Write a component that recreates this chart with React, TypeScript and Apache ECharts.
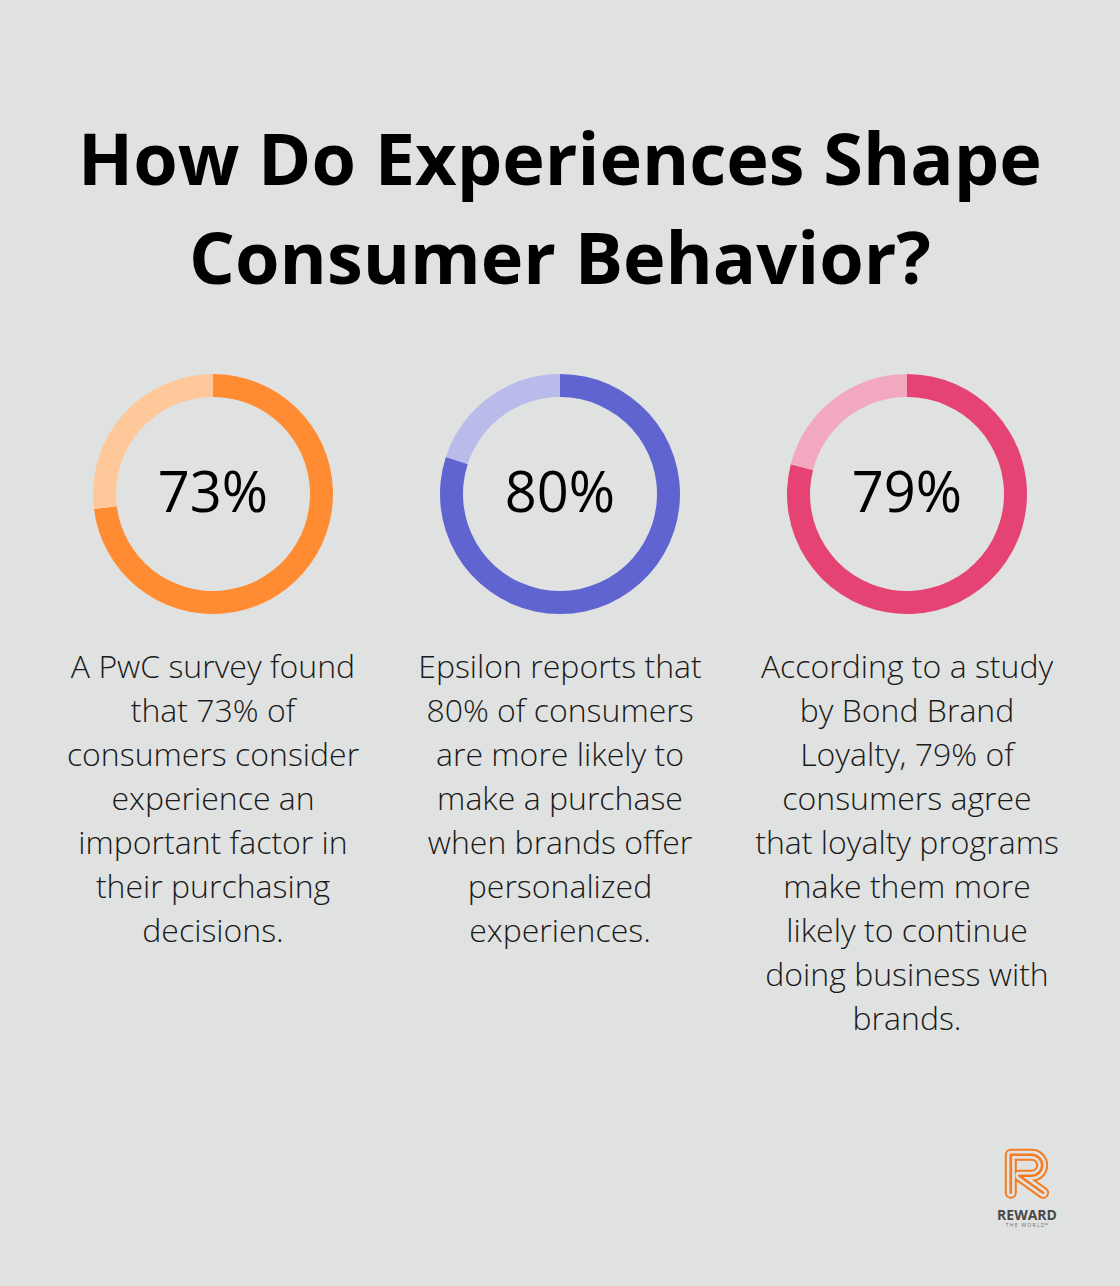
import React, { useEffect, useRef } from "react";
import * as echarts from "echarts";

const titleLines = ["How Do Experiences Shape", "Consumer Behavior?"];
const percents = [73, 80, 79];
const mainColors = ["#FF8C33", "#5F64D1", "#E54373"];
const lightColors = ["#FFC89B", "#B9BBEA", "#F2A9BF"];
const descriptions = [
  [
    "A PwC survey found",
    "that 73% of",
    "consumers consider",
    "experience an",
    "important factor in",
    "their purchasing",
    "decisions.",
  ],
  [
    "Epsilon reports that",
    "80% of consumers",
    "are more likely to",
    "make a purchase",
    "when brands offer",
    "personalized",
    "experiences.",
  ],
  [
    "According to a study",
    "by Bond Brand",
    "Loyalty, 79% of",
    "consumers agree",
    "that loyalty programs",
    "make them more",
    "likely to continue",
    "doing business with",
    "brands.",
  ],
];

const BG = "#E0E2E1";
const FONT = "'Open Sans', 'Noto Sans', sans-serif";

const R_PATH = "M4 44 L4 4 L26 4 A11 11 0 0 1 26 26 L13 26 L38 44";
let registered = false;
function registerLogo() {
  if (registered) return;
  echarts.graphic.registerShape("logo", echarts.graphic.extendPath(R_PATH, {}) as any);
  registered = true;
}

export default function App() {
  const ref = useRef<HTMLDivElement>(null);
  useEffect(() => {
    document.body.style.margin = "0";
    document.body.style.background = BG;
    registerLogo();
    const chart = echarts.init(ref.current!, null, { renderer: "svg" });
    const centersX = [213, 560, 907];
    const cy = 494;

    const series: any[] = percents.map((p, i) => ({
      type: "pie",
      center: [centersX[i], cy],
      radius: [97, 120],
      startAngle: 90,
      clockwise: true,
      silent: true,
      label: { show: false },
      labelLine: { show: false },
      itemStyle: { borderWidth: 0 },
      data: [
        { value: p, name: "value", itemStyle: { color: mainColors[i] } },
        { value: 100 - p, name: "rest", itemStyle: { color: lightColors[i] } },
      ],
    }));

    const graphics: any[] = [];
    graphics.push({
      type: "text",
      x: 560,
      y: 107,
      style: {
        text: titleLines.join("\n"),
        align: "center",
        verticalAlign: "top",
        lineHeight: 99,
        font: `bold 72px ${FONT}`,
        fill: "#000000",
      },
    });
    percents.forEach((p, i) => {
      graphics.push({
        type: "text",
        x: centersX[i],
        y: 490,
        style: {
          text: `${p}%`,
          align: "center",
          verticalAlign: "middle",
          font: `500 56px ${FONT}`,
          fill: "#000000",
        },
      });
      graphics.push({
        type: "text",
        x: centersX[i],
        y: 643,
        style: {
          text: descriptions[i].join("\n"),
          align: "center",
          verticalAlign: "top",
          lineHeight: 44,
          font: `300 32px ${FONT}`,
          fill: "#1A1A1A",
        },
      });
    });

    // logo
    const logoX = 1007;
    const logoY = 1151;
    const s = 0.95;
    const layers = [
      { w: 12, c: "#F47B20" },
      { w: 8, c: BG },
      { w: 2.6, c: "#F47B20" },
    ];
    layers.forEach((l) => {
      graphics.push({
        type: "logo",
        x: logoX,
        y: logoY,
        scaleX: s,
        scaleY: s,
        style: {
          fill: "none",
          stroke: l.c,
          lineWidth: l.w / s,
          lineCap: "round",
          lineJoin: "round",
        },
      });
    });
    graphics.push({
      type: "text",
      x: 1027,
      y: 1214,
      style: {
        text: "REWARD",
        align: "center",
        verticalAlign: "middle",
        lineHeight: 14,
        font: `bold 14px ${FONT}`,
        fill: "#4A4A4A",
      },
    });
    graphics.push({
      type: "text",
      x: 1027,
      y: 1225,
      style: {
        text: "T H E   W O R L D™",
        align: "center",
        verticalAlign: "middle",
        lineHeight: 6,
        font: `5px ${FONT}`,
        fill: "#6A6A6A",
      },
    });

    chart.setOption({
      backgroundColor: BG,
      animation: false,
      series,
      graphic: graphics,
    });
    return () => chart.dispose();
  }, []);
  return <div ref={ref} style={{ width: 1120, height: 1286 }} />;
}
